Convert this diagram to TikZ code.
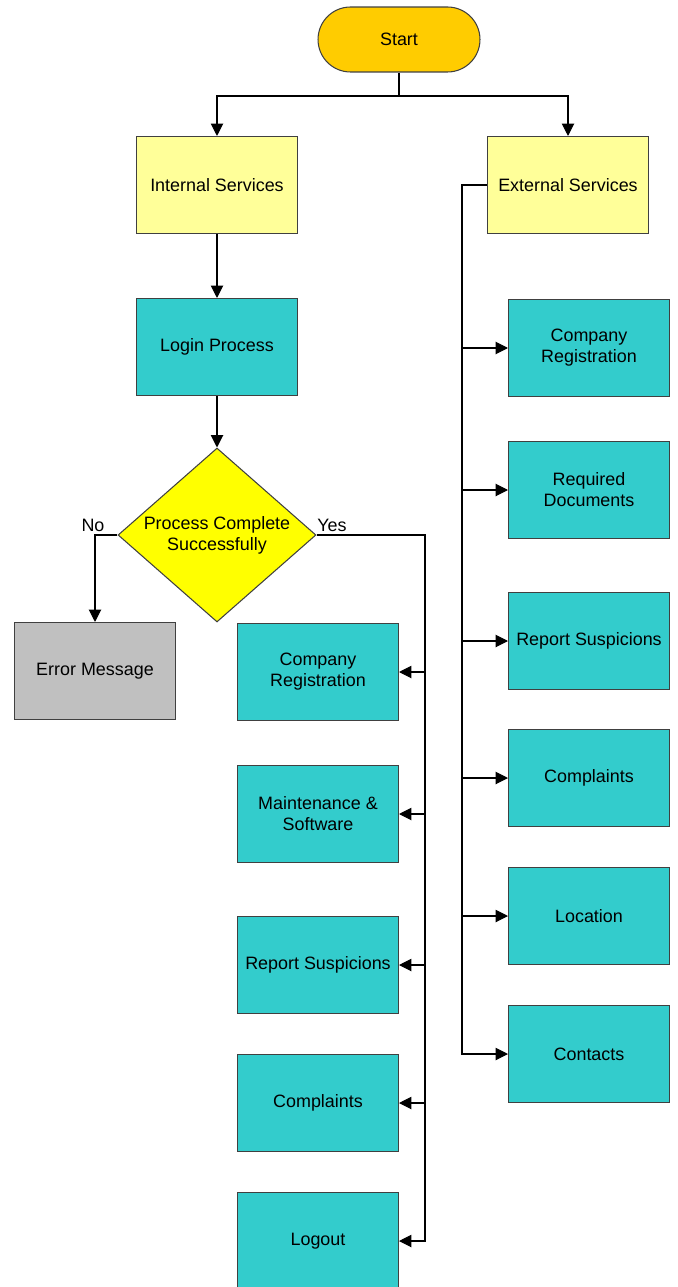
\documentclass[tikz,border=0pt]{standalone}
\usepackage{fontspec}
\setmainfont{Liberation Sans}
\usetikzlibrary{shapes.geometric,arrows.meta}
\definecolor{startcol}{HTML}{FFCC00}
\definecolor{servcol}{HTML}{FFFF99}
\definecolor{tealcol}{HTML}{33CCCC}
\definecolor{errcol}{HTML}{C0C0C0}
\definecolor{decol}{HTML}{FFFF00}
\begin{document}
\begin{tikzpicture}[x=0.02cm, y=-0.02cm,
    every node/.style={font=\fontsize{10.2}{11.9}\selectfont, align=center},
    box/.style={draw=black!75, line width=0.6pt, minimum width=3.22cm, minimum height=1.94cm, inner sep=1pt},
    tri/.style={-{Triangle[length=7pt, width=7pt]}},
    conn/.style={line width=0.6pt}]
    \useasboundingbox (0, 0) rectangle (677, 1287);
    % top
    \node[draw=black!75, line width=0.6pt, fill=startcol, minimum width=3.24cm, minimum height=1.3cm, rounded corners=0.65cm] (start) at (399, 39.5) {Start};
    \coordinate (split) at (399, 96);
    \node[box, fill=servcol] (int) at (217, 185) {Internal Services};
    \node[box, fill=servcol] (ext) at (568, 185) {External Services};
    \draw[conn] (start) -- (split);
    \draw[conn, tri] (split) -| (int);
    \draw[conn, tri] (split) -| (ext);
    % internal side
    \node[box, fill=tealcol] (login) at (217, 347) {Login Process};
    \node[draw=black!75, line width=0.6pt, fill=decol, diamond, aspect=1.14, minimum width=3.96cm, minimum height=3.48cm, inner sep=0pt] (dec) at (217, 535) {Process Complete\\Successfully};
    \node[box, fill=errcol] (err) at (95, 671) {Error Message};
    \draw[conn, tri] (int) -- (login);
    \draw[conn, tri] (login) -- (dec);
    \draw[conn, tri] (dec.west) -| (err);
    \node (nolbl) at (93, 525) {No};
    \node (yeslbl) at (332, 525) {Yes};
    \node[box, fill=tealcol] (icr) at (318, 672) {Company\\Registration};
    \node[box, fill=tealcol] (imain) at (318, 814) {Maintenance \&\\Software};
    \node[box, fill=tealcol] (irep) at (318, 965) {Report Suspicions};
    \node[box, fill=tealcol] (icomp) at (318, 1103) {Complaints};
    \node[box, fill=tealcol] (iout) at (318, 1241) {Logout};
    \coordinate (ibus) at (425, 535);
    \draw[conn, tri] (dec.east) -- (ibus) |- (iout.east);
    \foreach \b in {icr, imain, irep, icomp}
        \draw[conn, tri] (ibus |- \b) -- (\b.east);
    % external side
    \node[box, fill=tealcol] (ecr) at (589, 348) {Company\\Registration};
    \node[box, fill=tealcol] (edoc) at (589, 490) {Required\\Documents};
    \node[box, fill=tealcol] (erep) at (589, 641) {Report Suspicions};
    \node[box, fill=tealcol] (ecomp) at (589, 778) {Complaints};
    \node[box, fill=tealcol] (eloc) at (589, 916) {Location};
    \node[box, fill=tealcol] (econ) at (589, 1054) {Contacts};
    \coordinate (ebus) at (462, 185);
    \draw[conn, tri] (ext.west) -- (ebus) |- (econ.west);
    \foreach \b in {ecr, edoc, erep, ecomp, eloc}
        \draw[conn, tri] (ebus |- \b) -- (\b.west);
\end{tikzpicture}
\end{document}
